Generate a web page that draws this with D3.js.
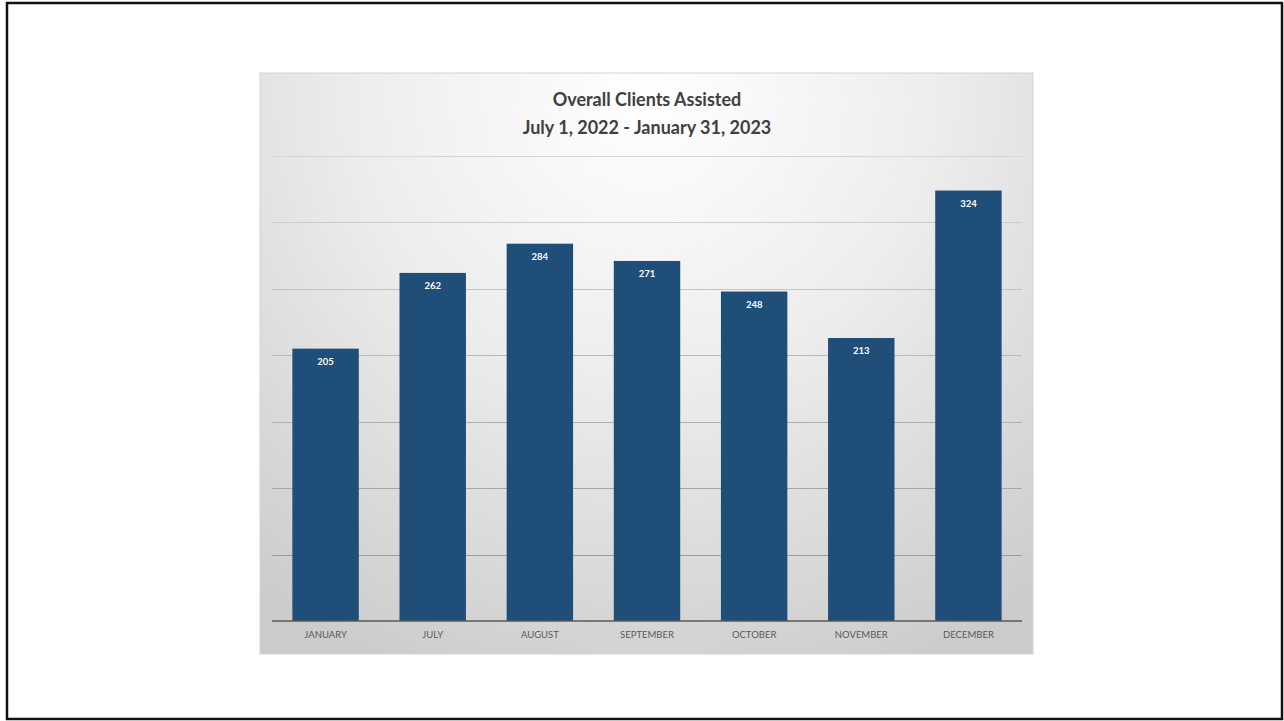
<!DOCTYPE html>
<html>
<head>
<meta charset="utf-8">
<script src="https://cdn.jsdelivr.net/npm/d3@7"></script>
<style>
  body { margin: 0; background: #fff; }
</style>
</head>
<body>
<div id="viz"></div>
<script>
var months = ['JANUARY', 'JULY', 'AUGUST', 'SEPTEMBER', 'OCTOBER', 'NOVEMBER', 'DECEMBER'];
var clients = [205, 262, 284, 271, 248, 213, 324];
var yTicks = [0, 50, 100, 150, 200, 250, 300, 350];
var titleLines = ['Overall Clients Assisted', 'July 1, 2022 - January 31, 2023'];

var width = 1284, height = 721;
var box = { x: 260, y: 73, w: 773, h: 581 };
var plot = { left: 272, right: 1022, top: 156, bottom: 621 };

var svg = d3.select('#viz').append('svg')
  .attr('width', width)
  .attr('height', height);

// page frame
svg.append('rect')
  .attr('x', 7).attr('y', 3)
  .attr('width', 1275).attr('height', 716)
  .attr('fill', 'none')
  .attr('stroke', '#111')
  .attr('stroke-width', 2.5);

var defs = svg.append('defs');
var grad = defs.append('radialGradient')
  .attr('id', 'bg')
  .attr('gradientUnits', 'userSpaceOnUse')
  .attr('cx', 647).attr('cy', 90)
  .attr('r', 640);
grad.append('stop').attr('offset', '0%').attr('stop-color', '#ffffff');
grad.append('stop').attr('offset', '45%').attr('stop-color', '#ededed');
grad.append('stop').attr('offset', '100%').attr('stop-color', '#cbcbcb');

svg.append('rect')
  .attr('x', box.x).attr('y', box.y)
  .attr('width', box.w).attr('height', box.h)
  .attr('fill', 'url(#bg)')
  .attr('stroke', '#d4d4d4')
  .attr('stroke-width', 1);

var x = d3.scaleBand()
  .domain(months)
  .range([plot.left, plot.right])
  .paddingInner(0.38)
  .paddingOuter(0.19);

var y = d3.scaleLinear()
  .domain([0, 350])
  .range([plot.bottom, plot.top]);

// gridlines get darker toward the bottom, like the original
var gridColor = d3.scaleLinear()
  .domain([350, 50])
  .range(['#d6d6d6', '#9c9c9c']);

svg.append('g')
  .selectAll('line')
  .data(yTicks.slice(1))
  .enter().append('line')
    .attr('x1', plot.left).attr('x2', plot.right)
    .attr('y1', function(d) { return Math.round(y(d)) + 0.5; })
    .attr('y2', function(d) { return Math.round(y(d)) + 0.5; })
    .attr('stroke', function(d) { return gridColor(d); })
    .attr('stroke-width', 1.2);

// bars
svg.append('g')
  .selectAll('rect')
  .data(clients)
  .enter().append('rect')
    .attr('x', function(d, i) { return x(months[i]); })
    .attr('y', function(d) { return y(d); })
    .attr('width', x.bandwidth())
    .attr('height', function(d) { return y(0) - y(d); })
    .attr('fill', '#1f4e79');

// value labels
svg.append('g')
  .selectAll('text')
  .data(clients)
  .enter().append('text')
    .attr('x', function(d, i) { return x(months[i]) + x.bandwidth() / 2; })
    .attr('y', function(d) { return y(d) + 16; })
    .attr('text-anchor', 'middle')
    .attr('font-family', 'Lato, "Open Sans", sans-serif')
    .attr('font-weight', 'bold')
    .attr('font-size', 9.5)
    .attr('fill', '#ffffff')
    .text(function(d) { return d; });

// x axis
var xAxis = svg.append('g')
  .attr('transform', 'translate(0,' + plot.bottom + ')')
  .call(d3.axisBottom(x).tickSize(0).tickPadding(10));
xAxis.select('.domain')
  .attr('stroke', '#595959')
  .attr('stroke-width', 1.5)
  .attr('d', 'M' + plot.left + ',0H' + plot.right);
xAxis.selectAll('text')
  .attr('font-family', 'Lato, "Open Sans", sans-serif')
  .attr('font-size', 9.5)
  .attr('fill', '#595959');

// title
svg.append('g')
  .selectAll('text')
  .data(titleLines)
  .enter().append('text')
    .attr('x', 647)
    .attr('y', function(d, i) { return 106 + i * 28; })
    .attr('text-anchor', 'middle')
    .attr('font-family', 'Lato, "Open Sans", sans-serif')
    .attr('font-weight', 'bold')
    .attr('font-size', 18)
    .attr('fill', '#404040')
    .text(function(d) { return d; });
</script>
</body>
</html>
